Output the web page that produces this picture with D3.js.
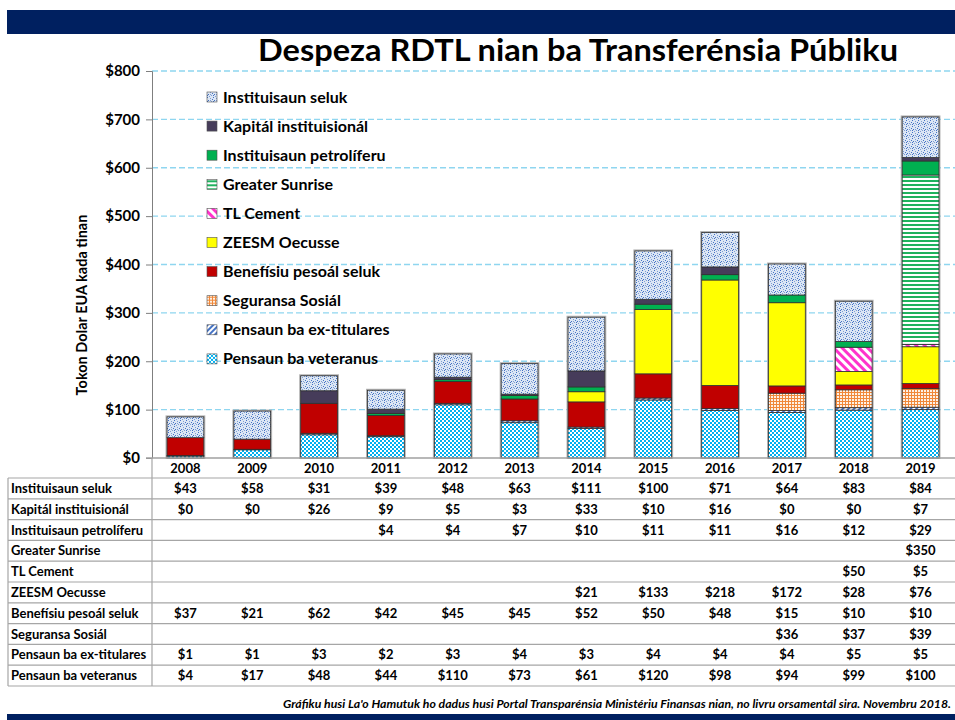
<!DOCTYPE html>
<html>
<head>
<meta charset="utf-8">
<script src="https://cdn.jsdelivr.net/npm/d3@7"></script>
<style>
  body { margin: 0; background: #fff; }
  svg { display: block; font-family: Lato, "Open Sans", sans-serif; }
</style>
</head>
<body>
<div id="chart"></div>
<script>
const years = ['2008', '2009', '2010', '2011', '2012', '2013', '2014', '2015', '2016', '2017', '2018', '2019']

// rows as in the table / legend (top of stack first)
const seriesNames = [
  'Instituisaun seluk', 'Kapitál instituisionál', 'Instituisaun petrolíferu', 'Greater Sunrise',
  'TL Cement', 'ZEESM Oecusse', 'Benefísiu pesoál seluk', 'Seguransa Sosiál',
  'Pensaun ba ex-titulares', 'Pensaun ba veteranus'
]
const instituisaunSeluk = [43, 58, 31, 39, 48, 63, 111, 100, 71, 64, 83, 84]
const kapitalInstituisional = [0, 0, 26, 9, 5, 3, 33, 10, 16, 0, 0, 7]
const instituisaunPetroliferu = [null, null, null, 4, 4, 7, 10, 11, 11, 16, 12, 29]
const greaterSunrise = [null, null, null, null, null, null, null, null, null, null, null, 350]
const tlCement = [null, null, null, null, null, null, null, null, null, null, 50, 5]
const zeesmOecusse = [null, null, null, null, null, null, 21, 133, 218, 172, 28, 76]
const beneficiuPesoal = [37, 21, 62, 42, 45, 45, 52, 50, 48, 15, 10, 10]
const seguransaSosial = [null, null, null, null, null, null, null, null, null, 36, 37, 39]
const pensaunExTitulares = [1, 1, 3, 2, 3, 4, 3, 4, 4, 4, 5, 5]
const pensaunVeteranus = [4, 17, 48, 44, 110, 73, 61, 120, 98, 94, 99, 100]
const seriesValues = [
  instituisaunSeluk, kapitalInstituisional, instituisaunPetroliferu, greaterSunrise,
  tlCement, zeesmOecusse, beneficiuPesoal, seguransaSosial, pensaunExTitulares, pensaunVeteranus
]
const yTicks = [0, 100, 200, 300, 400, 500, 600, 700, 800]

const fills = [
  'url(#pSeluk)', '#463c5a', '#00b050', 'url(#pSunrise)', 'url(#pCement)',
  '#ffff00', '#c00000', 'url(#pSeguransa)', 'url(#pExTit)', 'url(#pVeteranus)'
]

const width = 955
const height = 720
const svg = d3.select('#chart').append('svg').attr('width', width).attr('height', height)

// patterns
const defs = svg.append('defs')
const pv = defs.append('pattern').attr('id', 'pVeteranus').attr('patternUnits', 'userSpaceOnUse').attr('width', 4).attr('height', 4)
pv.append('rect').attr('width', 4).attr('height', 4).attr('fill', '#fff')
pv.append('rect').attr('width', 2).attr('height', 2).attr('fill', '#00b0f0')
pv.append('rect').attr('x', 2).attr('y', 2).attr('width', 2).attr('height', 2).attr('fill', '#00b0f0')

const pe = defs.append('pattern').attr('id', 'pExTit').attr('patternUnits', 'userSpaceOnUse').attr('width', 4).attr('height', 4)
  .attr('patternTransform', 'rotate(45)')
pe.append('rect').attr('width', 4).attr('height', 4).attr('fill', '#fff')
pe.append('rect').attr('width', 2).attr('height', 4).attr('fill', '#4472c4')

const ps = defs.append('pattern').attr('id', 'pSeguransa').attr('patternUnits', 'userSpaceOnUse').attr('width', 3).attr('height', 3)
ps.append('rect').attr('width', 3).attr('height', 3).attr('fill', '#fdf1e6')
ps.append('rect').attr('x', 2).attr('width', 1).attr('height', 3).attr('fill', '#f0883a')
ps.append('rect').attr('y', 2).attr('width', 3).attr('height', 1).attr('fill', '#f0883a')

const pc = defs.append('pattern').attr('id', 'pCement').attr('patternUnits', 'userSpaceOnUse').attr('width', 6).attr('height', 6)
  .attr('patternTransform', 'rotate(-45)')
pc.append('rect').attr('width', 6).attr('height', 6).attr('fill', '#fff')
pc.append('rect').attr('width', 3).attr('height', 6).attr('fill', '#ff33cc')

const pg = defs.append('pattern').attr('id', 'pSunrise').attr('patternUnits', 'userSpaceOnUse').attr('width', 4).attr('height', 4)
pg.append('rect').attr('width', 4).attr('height', 4).attr('fill', '#fff')
pg.append('rect').attr('width', 4).attr('height', 2).attr('fill', '#1fb25e')

const pd = defs.append('pattern').attr('id', 'pSeluk').attr('patternUnits', 'userSpaceOnUse').attr('width', 6).attr('height', 6)
pd.append('rect').attr('width', 6).attr('height', 6).attr('fill', '#dce6f4')
;[[0, 0], [3, 1], [1, 3], [4, 4], [5, 2], [2, 5], [0, 4], [3, 3]].forEach(function (p, i) {
  pd.append('rect').attr('x', p[0]).attr('y', p[1]).attr('width', 1).attr('height', 1)
    .attr('fill', i % 2 ? '#7f9fd4' : '#4472c4')
})

// header and footer bars
svg.append('rect').attr('x', 7).attr('y', 10).attr('width', width - 7).attr('height', 24).attr('fill', '#002060')
svg.append('rect').attr('x', 7).attr('y', 714).attr('width', width - 7).attr('height', 6).attr('fill', '#002060')

svg.append('text')
  .attr('x', 578).attr('y', 61)
  .attr('text-anchor', 'middle')
  .attr('font-size', 30).attr('font-weight', 'bold')
  .attr('textLength', 640).attr('lengthAdjust', 'spacingAndGlyphs')
  .text('Despeza RDTL nian ba Transferénsia Públiku')

const x = d3.scaleBand().domain(years).range([152, 954]).paddingInner(0.45).paddingOuter(0.225)
const y = d3.scaleLinear().domain([0, 800]).range([458, 71])

// gridlines
svg.append('g').selectAll('line')
  .data(yTicks.filter(d => d > 0))
  .enter().append('line')
  .attr('x1', 152).attr('x2', width)
  .attr('y1', d => y(d)).attr('y2', d => y(d))
  .attr('stroke', '#8fd6f0').attr('stroke-width', 1.3).attr('stroke-dasharray', '6,3')

// y axis
const yAxis = svg.append('g').attr('transform', 'translate(152,0)')
  .call(d3.axisLeft(y).tickValues(yTicks).tickFormat(d => '$' + d).tickSize(6).tickPadding(6))
yAxis.select('.domain').attr('stroke', '#7f7f7f')
yAxis.selectAll('.tick line').attr('stroke', '#7f7f7f')
yAxis.selectAll('text').attr('font-size', 15).attr('font-weight', 'bold').attr('fill', '#000')
  .attr('font-family', 'Lato, sans-serif')

svg.append('text')
  .attr('transform', 'translate(87,305) rotate(-90)')
  .attr('text-anchor', 'middle')
  .attr('font-size', 14.5).attr('font-weight', 'bold')
  .text('Tokon Dolar EUA kada tinan')

// stacked bars (bottom of stack = last series)
const stackOrder = seriesNames.map((n, i) => i).reverse()
const stackData = years.map(function (yr, j) {
  const row = { year: yr }
  seriesNames.forEach(function (n, i) { row[n] = seriesValues[i][j] || 0 })
  return row
})
const stack = d3.stack().keys(stackOrder.map(i => seriesNames[i]))
const layers = stack(stackData)

// soft outline behind each bar
svg.append('g').selectAll('rect')
  .data(stackData)
  .enter().append('rect')
  .attr('x', d => x(d.year) - 0.5)
  .attr('width', x.bandwidth() + 1)
  .attr('y', d => y(d3.sum(seriesNames, n => d[n])) - 0.5)
  .attr('height', d => y(0) - y(d3.sum(seriesNames, n => d[n])) + 0.5)
  .attr('fill', 'none').attr('stroke', '#b0b0b0').attr('stroke-width', 2)

svg.append('g').selectAll('g')
  .data(layers)
  .enter().append('g')
  .attr('fill', (d, k) => fills[stackOrder[k]])
  .selectAll('rect')
  .data(d => d.filter(s => s[1] - s[0] > 0))
  .enter().append('rect')
  .attr('x', d => x(d.data.year))
  .attr('width', x.bandwidth())
  .attr('y', d => y(d[1]))
  .attr('height', d => y(d[0]) - y(d[1]))
  .attr('stroke', '#303030').attr('stroke-width', 0.8)

// baseline
svg.append('line').attr('x1', 146).attr('x2', width).attr('y1', y(0)).attr('y2', y(0))
  .attr('stroke', '#a0a0a0').attr('stroke-width', 1.3)

// year labels
svg.append('g').selectAll('text')
  .data(years)
  .enter().append('text')
  .attr('x', d => x(d) + x.bandwidth() / 2)
  .attr('y', 473)
  .attr('text-anchor', 'middle')
  .attr('font-size', 13).attr('font-weight', 'bold')
  .text(d => d)

// legend
const legend = svg.append('g').selectAll('g')
  .data(seriesNames)
  .enter().append('g')
  .attr('transform', (d, i) => 'translate(207,' + (97 + i * 29.1) + ')')
legend.append('rect')
  .attr('x', 0).attr('y', -5).attr('width', 10).attr('height', 10)
  .attr('fill', (d, i) => fills[i])
  .attr('stroke', '#505050').attr('stroke-width', 0.6)
legend.append('text')
  .attr('x', 16).attr('y', 5.5)
  .attr('font-size', 16).attr('font-weight', 'bold')
  .text(d => d)

// data table
const rowH = 20.8
const tableTop = 478
const table = svg.append('g')
d3.range(seriesNames.length + 1).forEach(function (i) {
  table.append('line')
    .attr('x1', 8).attr('x2', width)
    .attr('y1', tableTop + i * rowH).attr('y2', tableTop + i * rowH)
    .attr('stroke', '#a6a6a6').attr('stroke-width', 1.2)
})
table.append('line').attr('x1', 8).attr('x2', 8).attr('y1', tableTop).attr('y2', tableTop + rowH * seriesNames.length)
  .attr('stroke', '#a6a6a6').attr('stroke-width', 1.2)
table.append('line').attr('x1', 152).attr('x2', 152).attr('y1', y(0)).attr('y2', tableTop + rowH * seriesNames.length)
  .attr('stroke', '#a6a6a6').attr('stroke-width', 1.2)

const rows = table.selectAll('g.row')
  .data(seriesNames)
  .enter().append('g').attr('class', 'row')
  .attr('transform', (d, i) => 'translate(0,' + (tableTop + i * rowH + rowH / 2 + 4.5) + ')')
rows.append('text')
  .attr('x', 11)
  .attr('font-size', 13).attr('font-weight', 'bold')
  .text(d => d)
rows.selectAll('text.v')
  .data((d, i) => seriesValues[i].map((v, j) => ({ v: v, year: years[j] })))
  .enter().append('text').attr('class', 'v')
  .attr('x', d => x(d.year) + x.bandwidth() / 2)
  .attr('text-anchor', 'middle')
  .attr('font-size', 13).attr('font-weight', 'bold')
  .text(d => d.v == null ? '' : '$' + d.v)

svg.append('text')
  .attr('x', 951).attr('y', 708)
  .attr('text-anchor', 'end')
  .attr('font-size', 12).attr('font-weight', 'bold').attr('font-style', 'italic')
  .attr('textLength', 668).attr('lengthAdjust', 'spacingAndGlyphs')
  .text("Gráfiku husi La'o Hamutuk ho dadus husi Portal Transparénsia Ministériu Finansas nian, no livru orsamentál sira. Novembru 2018.")
</script>
</body>
</html>
